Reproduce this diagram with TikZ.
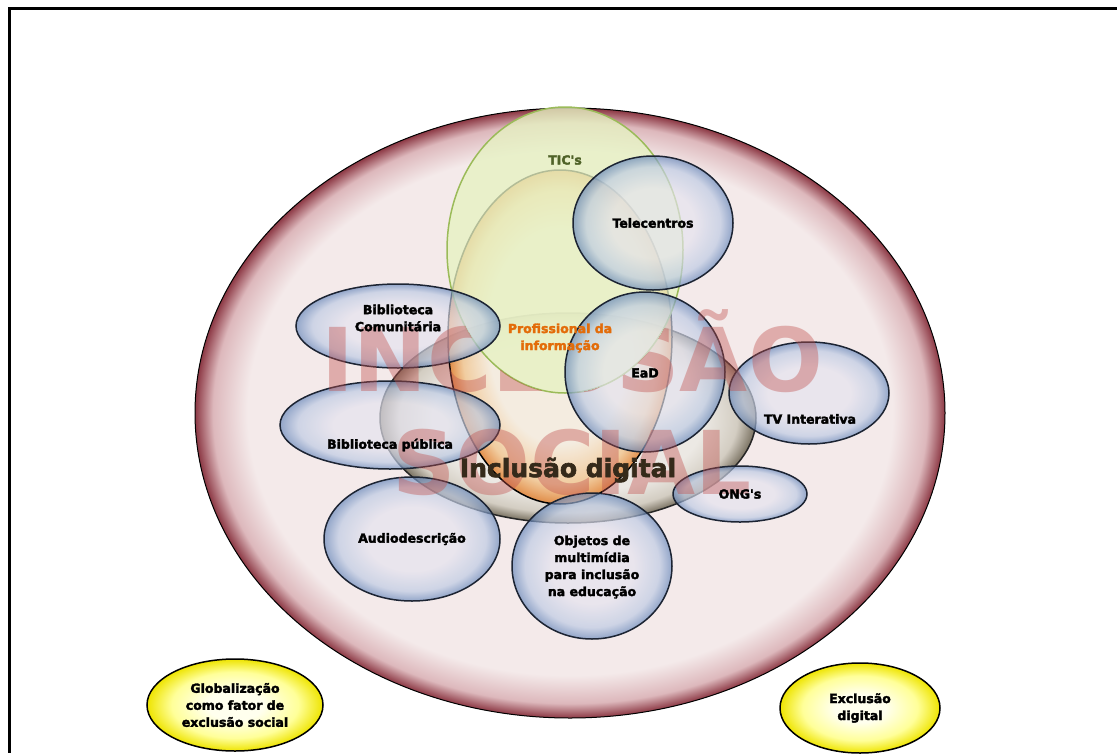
\documentclass[tikz,border=0pt]{standalone}
\usepackage{fontspec}
\setmainfont{DejaVu Sans}
\newfontfamily\heavyfont{DejaVu Sans}[BoldFeatures={FakeBold=2.6}]
\usetikzlibrary{shapes.geometric}

\definecolor{pinkin}{HTML}{F4EAEA}
\definecolor{pinkmid}{HTML}{DDB8BC}
\definecolor{pinkout}{HTML}{8C3844}
\definecolor{greyin}{HTML}{ECE9E4}
\definecolor{greymid}{HTML}{D3CDC2}
\definecolor{greyout}{HTML}{7A7262}
\definecolor{orangein}{HTML}{F8EEDF}
\definecolor{orangemid}{HTML}{F4C48A}
\definecolor{orangeout}{HTML}{E0731A}
\definecolor{bluein}{HTML}{E4E3EF}
\definecolor{bluemid}{HTML}{BCCAE4}
\definecolor{blueout}{HTML}{6586BA}
\definecolor{bubbleline}{HTML}{1C2433}
\definecolor{yelin}{HTML}{FFFFEE}
\definecolor{yelmid}{HTML}{FFFF99}
\definecolor{yelout}{HTML}{EEE400}
\definecolor{ticfill}{HTML}{E6F2C2}
\definecolor{ticborder}{HTML}{9BBB59}
\definecolor{tictext}{HTML}{4F6228}
\definecolor{proforange}{HTML}{E36C09}
\definecolor{digitaltext}{HTML}{352A1A}
\definecolor{socialred}{HTML}{C0504D}

\pgfdeclareradialshading{rim}{\pgfpoint{0bp}{0bp}}{color(0bp)=(pinkin); color(21.5bp)=(pinkin); color(23.8bp)=(pinkmid); color(25bp)=(pinkout); color(50bp)=(pinkout)}
\pgfdeclareradialshading{greyball}{\pgfpoint{0bp}{0bp}}{color(0bp)=(greyin); color(18bp)=(greyin); color(22.5bp)=(greymid); color(25bp)=(greyout); color(50bp)=(greyout)}
\pgfdeclareradialshading{orangeball}{\pgfpoint{0bp}{0bp}}{color(0bp)=(orangein); color(16bp)=(orangein); color(22bp)=(orangemid); color(25bp)=(orangeout); color(50bp)=(orangeout)}
\pgfdeclareradialshading{bubble}{\pgfpoint{0bp}{0bp}}{color(0bp)=(bluein); color(13bp)=(bluein); color(21bp)=(bluemid); color(25bp)=(blueout); color(50bp)=(blueout)}
\pgfdeclareradialshading{yellowball}{\pgfpoint{0bp}{0bp}}{color(0bp)=(yelin); color(8bp)=(yelin); color(18bp)=(yelmid); color(25bp)=(yelout); color(50bp)=(yelout)}

\newcommand{\lblfont}{\heavyfont\fontsize{12.5}{17}\selectfont\bfseries}

\tikzset{
  ring/.style={shape=ellipse, inner sep=0pt, line width=1.5pt},
  bubble/.style={ring, draw=bubbleline, shading=bubble, fill opacity=0.68, text opacity=1},
  yellowbox/.style={ring, draw=black, shading=yellowball, font=\lblfont, align=center},
  lbl/.style={font=\lblfont, align=center},
  bigtxt/.style={font=\fontsize{88}{100}\selectfont\bfseries, text=socialred, text opacity=0.4, anchor=base}
}

\begin{document}
\begin{tikzpicture}[x=1pt, y=-1pt]
  \useasboundingbox (0,0) rectangle (1117,753);
  \fill[white] (0,0) rectangle (1117,753);

  % frame
  \draw[line width=3pt] (1117,8) -- (9,8) -- (9,753);

  % Inclusao social
  \node[ring, draw=black, line width=1pt, shading=rim, minimum width=750pt, minimum height=610pt] (social) at (570,413) {};

  % Inclusao digital
  \node[ring, draw=black!85, shading=greyball, minimum width=376pt, minimum height=210pt] (digital) at (568,418) {};

  % Profissional / TIC's
  \node[ring, draw=black, shading=orangeball, fill opacity=0.75, minimum width=224pt, minimum height=334pt] (prof) at (560,337) {};
  \node[ring, draw=ticborder, fill=ticfill, fill opacity=0.78, minimum width=236pt, minimum height=286pt] (tic) at (565,250) {};

  % bubbles
  \node[bubble, minimum width=160pt, minimum height=134pt] (tele) at (653,223) {};
  \node[bubble, minimum width=204pt, minimum height=84pt] (comunit) at (398,326) {};
  \node[bubble, minimum width=160pt, minimum height=160pt] (ead) at (645,372) {};
  \node[bubble, minimum width=160pt, minimum height=102pt] (tv) at (809,393) {};
  \node[bubble, minimum width=220pt, minimum height=88pt] (publica) at (390,425) {};
  \node[bubble, minimum width=134pt, minimum height=56pt] (ong) at (740,494) {};
  \node[bubble, minimum width=176pt, minimum height=124pt] (audio) at (412,539) {};
  \node[bubble, minimum width=160pt, minimum height=146pt] (objetos) at (592,566) {};

  % INCLUSAO SOCIAL, kept off the TIC's area
  \begin{scope}[even odd rule]
    \clip (0,0) rectangle (1117,753) (tic.center) ellipse [x radius=118, y radius=143];
    \node[bigtxt] (inclusaotxt) at (572,391) {INCLUSÃO};
    \node[bigtxt] (socialtxt) at (572,494) {SOCIAL};
  \end{scope}

  % labels
  \node[lbl, text=tictext] (tictxt) at (565,160) {TIC's};
  \node[lbl] (teletxt) at (653,223) {Telecentros};
  \node[lbl, text=proforange] (proftxt) at (560,338) {Profissional da\\informação};
  \node[lbl] (comunittxt) at (398,318) {Biblioteca\\Comunitária};
  \node[lbl] (eadtxt) at (645,373) {EaD};
  \node[lbl] (tvtxt) at (810,419) {TV Interativa};
  \node[lbl] (publicatxt) at (390,445) {Biblioteca pública};
  \node[lbl] (ongtxt) at (740,494) {ONG's};
  \node[lbl] (audiotxt) at (412,539) {Audiodescrição};
  \node[lbl] (objetostxt) at (592,567) {Objetos de\\multimídia\\para inclusão\\na educação};
  \node[font=\heavyfont\fontsize{25}{28}\selectfont\bfseries, text=digitaltext] (digitaltxt) at (568,470) {Inclusão digital};

  % outside
  \node[yellowbox, minimum width=176pt, minimum height=92pt] (glob) at (235,705) {Globalização\\como fator de\\exclusão social};
  \node[yellowbox, minimum width=160pt, minimum height=90pt] (exclusao) at (860,708) {Exclusão\\digital};
\end{tikzpicture}
\end{document}
